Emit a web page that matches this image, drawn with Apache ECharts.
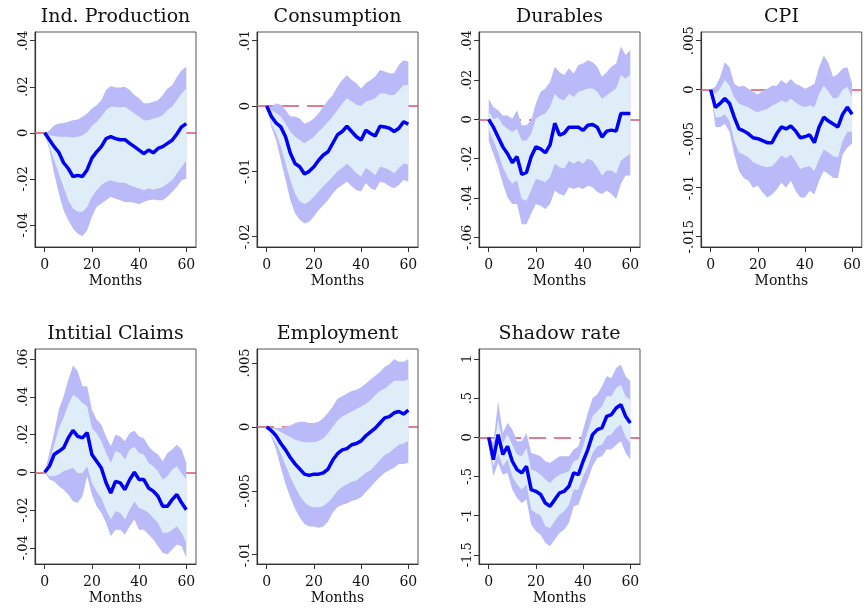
<!DOCTYPE html>
<html><head><meta charset="utf-8">
<script src="https://cdn.jsdelivr.net/npm/echarts@6/dist/echarts.min.js"></script>
<style>html,body{margin:0;padding:0;background:#fff}#c{width:864px;height:609px}</style>
</head><body><div id="c"></div>
<script>
// ---- data (months 0..60, step 2) ----
const months = [0,2,4,6,8,10,12,14,16,18,20,22,24,26,28,30,32,34,36,38,40,42,44,46,48,50,52,54,56,58,60];
const xTicks = [0,20,40,60];
const titles = ["Ind. Production","Consumption","Durables","CPI","Intitial Claims","Employment","Shadow rate"];

// Ind. Production
const ipMed  = [0,-0.003,-0.006,-0.0085,-0.013,-0.0155,-0.019,-0.0185,-0.019,-0.016,-0.011,-0.0083,-0.006,-0.0025,-0.0017,-0.0025,-0.003,-0.003,-0.0046,-0.006,-0.0075,-0.009,-0.0075,-0.0087,-0.0068,-0.006,-0.0046,-0.0032,-0.0005,0.0026,0.004];
const ipHi90 = [0,0.001,0.0033,0.004,0.0043,0.0048,0.0055,0.0058,0.007,0.0084,0.0106,0.012,0.0142,0.0186,0.0203,0.0197,0.0197,0.02,0.0186,0.0164,0.015,0.0128,0.0128,0.0135,0.0142,0.0164,0.0193,0.0207,0.0243,0.0272,0.0287];
const ipHi68 = [0,-0.001,-0.0014,-0.0017,-0.0017,-0.0017,-0.002,-0.0017,-0.001,0.0004,0.003,0.0048,0.007,0.0099,0.0113,0.0113,0.011,0.0113,0.0099,0.0084,0.007,0.0055,0.0055,0.0062,0.0067,0.0077,0.0099,0.0113,0.0142,0.0171,0.0193];
const ipLo68 = [0,-0.006,-0.0119,-0.0177,-0.0235,-0.0293,-0.0329,-0.0343,-0.0343,-0.0322,-0.0278,-0.0249,-0.0228,-0.0213,-0.0206,-0.0213,-0.0217,-0.0217,-0.0228,-0.0235,-0.0242,-0.0249,-0.0242,-0.0246,-0.0242,-0.0235,-0.022,-0.0206,-0.0177,-0.0148,-0.0119];
const ipLo90 = [0,-0.0075,-0.0177,-0.0264,-0.0336,-0.038,-0.0416,-0.0438,-0.0449,-0.0423,-0.0365,-0.0322,-0.0307,-0.0293,-0.0278,-0.0286,-0.0293,-0.03,-0.03,-0.0304,-0.031,-0.03,-0.0293,-0.029,-0.0293,-0.0293,-0.0278,-0.0257,-0.0235,-0.0206,-0.0199];
const ipTicks = [-0.04,-0.02,0,0.02,0.04];

// Consumption
const csMed  = [0,-0.0016,-0.0026,-0.0032,-0.0047,-0.0072,-0.0088,-0.0093,-0.0104,-0.01,-0.0093,-0.0083,-0.0075,-0.007,-0.0057,-0.0044,-0.0039,-0.0031,-0.0039,-0.0047,-0.0052,-0.0037,-0.0042,-0.0046,-0.0031,-0.0032,-0.0034,-0.0039,-0.0034,-0.0024,-0.0028];
const csHi90 = [0,-0.0001,0.0004,0.0002,-0.0006,-0.0016,-0.0016,-0.0019,-0.0027,-0.0024,-0.0019,-0.0011,-0.0001,0.0009,0.0017,0.003,0.004,0.0047,0.004,0.0035,0.0027,0.0035,0.004,0.0045,0.0055,0.0053,0.005,0.005,0.0063,0.007,0.0068];
const csHi68 = [0,-0.0006,-0.0011,-0.0016,-0.0027,-0.0039,-0.0047,-0.0052,-0.0057,-0.0052,-0.0047,-0.0039,-0.0032,-0.0024,-0.0016,-0.0006,0.0004,0.0012,0.0007,0.0002,0,0.0007,0.0009,0.0012,0.0019,0.0019,0.0017,0.0017,0.0024,0.0032,0.0032];
const csLo68 = [0,-0.0027,-0.0042,-0.0062,-0.0088,-0.0113,-0.0134,-0.0146,-0.015,-0.0146,-0.0139,-0.0131,-0.0123,-0.0116,-0.0108,-0.01,-0.0095,-0.0088,-0.0095,-0.0103,-0.0108,-0.0095,-0.01,-0.0106,-0.0093,-0.0095,-0.0098,-0.0103,-0.0095,-0.0088,-0.009];
const csLo90 = [0,-0.0032,-0.0052,-0.0083,-0.0113,-0.0144,-0.0164,-0.0174,-0.018,-0.0177,-0.0169,-0.0159,-0.0152,-0.0144,-0.0134,-0.0126,-0.0121,-0.0116,-0.0123,-0.0129,-0.0131,-0.0118,-0.0126,-0.0129,-0.0116,-0.0118,-0.0123,-0.0126,-0.0121,-0.0113,-0.0116];
const csTicks = [-0.02,-0.01,0,0.01];

// Durables
const duMed  = [0,-0.004,-0.009,-0.014,-0.0175,-0.022,-0.019,-0.028,-0.027,-0.019,-0.014,-0.015,-0.017,-0.013,-0.002,-0.008,-0.007,-0.004,-0.004,-0.004,-0.0056,-0.003,-0.0026,-0.004,-0.009,-0.006,-0.0055,-0.006,0.003,0.003,0.003];
const duHi90 = [0.0105,0.0063,0.0046,0.002,0.002,0.0003,0.0046,-0.003,-0.003,-0.0005,0.008,0.014,0.0157,0.019,0.0267,0.024,0.0225,0.026,0.0233,0.0276,0.0284,0.03,0.029,0.0267,0.0216,0.024,0.0267,0.0284,0.037,0.0327,0.0352];
const duHi68 = [0.004,0,0.001,-0.003,-0.0048,-0.0065,-0.0048,-0.0107,-0.0107,-0.0073,0.0003,0.002,0.003,0.0063,0.013,0.0105,0.0097,0.013,0.0114,0.014,0.0148,0.0157,0.0157,0.014,0.0105,0.0123,0.014,0.0157,0.0225,0.0208,0.0225];
const duLo68 = [-0.005,-0.0107,-0.0167,-0.0243,-0.0294,-0.0328,-0.031,-0.0405,-0.0414,-0.036,-0.0303,-0.031,-0.032,-0.0294,-0.0226,-0.0243,-0.025,-0.021,-0.0226,-0.021,-0.0226,-0.02,-0.021,-0.0243,-0.0286,-0.026,-0.026,-0.0277,-0.021,-0.0192,-0.0175];
const duLo90 = [-0.011,-0.0175,-0.0243,-0.0328,-0.0397,-0.043,-0.043,-0.0533,-0.0533,-0.048,-0.043,-0.0439,-0.0456,-0.043,-0.0363,-0.038,-0.0388,-0.0345,-0.0354,-0.0345,-0.0354,-0.0337,-0.0345,-0.037,-0.038,-0.0363,-0.038,-0.0405,-0.0328,-0.0286,-0.0286];
const duTicks = [-0.06,-0.04,-0.02,0,0.02,0.04];

// CPI
const cpMed  = [0,-0.0018,-0.0014,-0.0009,-0.0014,-0.0028,-0.004,-0.0042,-0.0045,-0.0049,-0.005,-0.0052,-0.0054,-0.0054,-0.0045,-0.0038,-0.004,-0.0037,-0.0042,-0.0049,-0.0048,-0.0046,-0.0054,-0.0038,-0.0028,-0.0032,-0.0035,-0.0038,-0.0025,-0.0018,-0.0025];
const cpHi90 = [0,0.0003,0.0013,0.0028,0.0023,0.0006,0.0003,0.0004,0.0001,-0.0002,-0.0005,-0.0001,0.0001,0.0004,0.0004,0.001,0.0006,0.0011,0.0006,0.0004,0.0001,0.0003,0.0006,0.0023,0.0035,0.0027,0.0013,0.0016,0.0022,0.0023,0.0006];
const cpHi68 = [0,-0.0004,0.0001,0.001,0.0004,-0.0008,-0.0014,-0.0016,-0.0018,-0.0021,-0.0023,-0.0021,-0.002,-0.0016,-0.0014,-0.0011,-0.0013,-0.0009,-0.0013,-0.0016,-0.0018,-0.0016,-0.0018,-0.0004,0.0004,-0.0002,-0.0009,-0.0008,0,0.0003,-0.0008];
const cpLo68 = [0,-0.0028,-0.0028,-0.0025,-0.0032,-0.0052,-0.0064,-0.0066,-0.0069,-0.0074,-0.0076,-0.0078,-0.0079,-0.0078,-0.0073,-0.0067,-0.007,-0.0066,-0.0073,-0.0081,-0.0079,-0.0078,-0.0083,-0.0071,-0.0061,-0.0064,-0.0068,-0.0069,-0.0052,-0.0043,-0.0043];
const cpLo90 = [0,-0.0038,-0.0038,-0.0035,-0.0043,-0.0066,-0.0083,-0.009,-0.0093,-0.01,-0.0098,-0.0105,-0.011,-0.0107,-0.0102,-0.0095,-0.01,-0.0093,-0.0103,-0.011,-0.011,-0.0103,-0.0107,-0.0093,-0.0083,-0.0086,-0.009,-0.009,-0.0066,-0.0059,-0.0055];
const cpTicks = [-0.015,-0.01,-0.005,0,0.005];

// Initial Claims
const icMed  = [0,0.0032,0.0094,0.0111,0.0129,0.0182,0.0222,0.019,0.0182,0.021,0.0094,0.0058,0.0023,-0.0056,-0.011,-0.0048,-0.0056,-0.0092,-0.0039,0,-0.0039,-0.0039,-0.0083,-0.01,-0.0127,-0.018,-0.018,-0.0145,-0.0118,-0.0162,-0.0198];
const icHi90 = [0,0.0102,0.0208,0.0332,0.0402,0.049,0.0565,0.0535,0.0455,0.0455,0.0332,0.0279,0.0252,0.019,0.0138,0.02,0.019,0.0164,0.0208,0.022,0.019,0.018,0.0138,0.0111,0.0094,0.0058,0.0102,0.012,0.0146,0.012,0.0049];
const icHi68 = [0,0.0058,0.0146,0.0235,0.0288,0.0358,0.0411,0.0394,0.0367,0.035,0.0235,0.0208,0.0164,0.0102,0.0049,0.0111,0.0102,0.0067,0.012,0.0135,0.0102,0.0094,0.0049,0.0032,0.0005,-0.0039,-0.0021,0.0014,0.0032,-0.0005,-0.0039];
const icLo68 = [0,-0.0021,-0.0021,-0.0012,0.0005,0.0014,0.0023,-0.0004,-0.0004,0.0032,-0.0056,-0.01,-0.0136,-0.0198,-0.025,-0.0206,-0.0215,-0.025,-0.0198,-0.0155,-0.0189,-0.0198,-0.0215,-0.0242,-0.0268,-0.0321,-0.0321,-0.0304,-0.0286,-0.0321,-0.0374];
const icLo90 = [0,-0.0039,-0.0048,-0.0074,-0.0092,-0.0118,-0.0154,-0.0162,-0.0127,-0.0021,-0.0118,-0.018,-0.0215,-0.0268,-0.0339,-0.0304,-0.0304,-0.033,-0.0286,-0.025,-0.0304,-0.0304,-0.033,-0.0356,-0.0392,-0.0427,-0.0436,-0.0409,-0.0383,-0.0392,-0.0454];
const icTicks = [-0.04,-0.02,0,0.02,0.04,0.06];

// Employment
const emMed  = [0,-0.0003,-0.0007,-0.0013,-0.0018,-0.0024,-0.0029,-0.0033,-0.0037,-0.0038,-0.0037,-0.0037,-0.0036,-0.0033,-0.0026,-0.0021,-0.0018,-0.0017,-0.0014,-0.0013,-0.0011,-0.0007,-0.0004,-0.0001,0.0003,0.0007,0.0008,0.0011,0.0012,0.001,0.0013];
const emHi90 = [0,-0.0001,-0.0001,-0.0001,0,0.0001,0.0003,0.0004,0.0004,0.0003,0.0003,0.0004,0.0007,0.0011,0.0016,0.0022,0.0024,0.0026,0.0028,0.0029,0.0031,0.0034,0.0037,0.004,0.0043,0.0047,0.0049,0.0053,0.0051,0.0051,0.0053];
const emHi68 = [0,-0.0001,-0.0002,-0.0004,-0.0006,-0.0008,-0.001,-0.0011,-0.0012,-0.0012,-0.0012,-0.0011,-0.0009,-0.0005,0,0.0005,0.0008,0.001,0.0012,0.0014,0.0016,0.0018,0.0021,0.0025,0.0028,0.003,0.0033,0.0036,0.0036,0.0036,0.0037];
const emLo68 = [0,-0.0007,-0.0013,-0.0021,-0.003,-0.0039,-0.0047,-0.0054,-0.0059,-0.0062,-0.0063,-0.0063,-0.0062,-0.0059,-0.0055,-0.005,-0.0047,-0.0045,-0.0043,-0.0042,-0.0039,-0.0036,-0.0034,-0.003,-0.0026,-0.0022,-0.002,-0.0017,-0.0014,-0.0013,-0.0011];
const emLo90 = [0,-0.0008,-0.0018,-0.0032,-0.0045,-0.0055,-0.0064,-0.0071,-0.0076,-0.0078,-0.0078,-0.0079,-0.0078,-0.0074,-0.0067,-0.0063,-0.0061,-0.006,-0.0058,-0.0057,-0.0055,-0.0051,-0.0047,-0.0043,-0.0039,-0.0036,-0.0034,-0.0032,-0.0029,-0.0029,-0.0028];
const emTicks = [-0.01,-0.005,0,0.005];

// Shadow rate
const srMed  = [0,-0.285,0.034,-0.22,-0.115,-0.306,-0.413,-0.455,-0.37,-0.668,-0.69,-0.73,-0.84,-0.88,-0.796,-0.71,-0.69,-0.626,-0.455,-0.477,-0.306,-0.157,0.034,0.098,0.119,0.268,0.29,0.374,0.417,0.268,0.183];
const srHi90 = [0.02,-0.072,0.46,0.055,0.183,0.098,-0.051,-0.051,0.055,-0.2,-0.221,-0.243,-0.306,-0.328,-0.285,-0.243,-0.243,-0.243,-0.157,-0.115,0.098,0.31,0.502,0.545,0.65,0.779,0.757,0.885,0.928,0.779,0.715];
const srHi68 = [0,-0.157,0.225,-0.072,0.034,-0.094,-0.221,-0.243,-0.136,-0.413,-0.434,-0.477,-0.54,-0.583,-0.519,-0.477,-0.455,-0.434,-0.306,-0.285,-0.115,0.077,0.268,0.332,0.396,0.523,0.523,0.63,0.672,0.523,0.48];
const srLo68 = [-0.06,-0.37,-0.2,-0.37,-0.285,-0.498,-0.604,-0.668,-0.604,-0.923,-0.966,-1.0,-1.136,-1.157,-1.072,-0.987,-0.945,-0.86,-0.668,-0.668,-0.498,-0.37,-0.2,-0.115,-0.094,0.013,0.034,0.119,0.162,0,-0.072];
const srLo90 = [-0.1,-0.498,-0.328,-0.477,-0.455,-0.668,-0.774,-0.838,-0.796,-1.115,-1.2,-1.243,-1.349,-1.391,-1.306,-1.221,-1.179,-1.094,-0.881,-0.86,-0.689,-0.54,-0.37,-0.264,-0.243,-0.157,-0.157,-0.094,-0.051,-0.2,-0.285];
const srTicks = [-1.5,-1,-0.5,0,0.5,1];

// ---- layout / style ----
const FONT = "'DejaVu Serif', serif";
const COL_L = [35, 257, 479, 701];
const ROW_T = [32, 349];
const GW = 161, GH = 215;
const panels = [
  {med: ipMed, hi90: ipHi90, hi68: ipHi68, lo68: ipLo68, lo90: ipLo90, ticks: ipTicks, ymin: -0.0496, ymax: 0.0438, col: 0, row: 0},
  {med: csMed, hi90: csHi90, hi68: csHi68, lo68: csLo68, lo90: csLo90, ticks: csTicks, ymin: -0.02158, ymax: 0.01133, col: 1, row: 0},
  {med: duMed, hi90: duHi90, hi68: duHi68, lo68: duLo68, lo90: duLo90, ticks: duTicks, ymin: -0.0649, ymax: 0.0444, col: 2, row: 0},
  {med: cpMed, hi90: cpHi90, hi68: cpHi68, lo68: cpLo68, lo90: cpLo90, ticks: cpTicks, ymin: -0.01605, ymax: 0.00589, col: 3, row: 0},
  {med: icMed, hi90: icHi90, hi68: icHi68, lo68: icLo68, lo90: icLo90, ticks: icTicks, ymin: -0.0486, ymax: 0.0653, col: 0, row: 1},
  {med: emMed, hi90: emHi90, hi68: emHi68, lo68: emLo68, lo90: emLo90, ticks: emTicks, ymin: -0.01073, ymax: 0.00609, col: 1, row: 1},
  {med: srMed, hi90: srHi90, hi68: srHi68, lo68: srLo68, lo90: srLo90, ticks: srTicks, ymin: -1.618, ymax: 1.127, col: 2, row: 1}
];

function fmt(v) {
  if (v === 0) return '0';
  const s = String(+Math.abs(v).toFixed(4)).replace(/^0\./, '.');
  return (v < 0 ? '-' : '') + s;
}
const pairs = arr => months.map((m, i) => [m, arr[i]]);

// band drawn as one polygon through the axis scales (api.coord)
function bandSeries(k, lo, hi, color, z, extra) {
  return Object.assign({
    type: 'custom', xAxisIndex: k, yAxisIndex: k, silent: true, animation: false, z: z,
    data: months.map((m, i) => [m, lo[i], hi[i]]),
    encode: {x: 0, y: [1, 2]},
    renderItem: function (params, api) {
      if (params.dataIndex !== 0) return null;
      const upper = months.map((m, i) => api.coord([m, hi[i]]));
      const lower = months.map((m, i) => api.coord([m, lo[i]])).reverse();
      return {type: 'polygon', shape: {points: upper.concat(lower)}, style: {fill: color, stroke: null}};
    }
  }, extra || {});
}

const grid = [], xAxis = [], yAxis = [], series = [], title = [];
panels.forEach((p, k) => {
  const left = COL_L[p.col], top = ROW_T[p.row];
  grid.push({left: left, top: top, width: GW, height: GH, show: true, borderColor: '#555', borderWidth: 1, containLabel: false});
  title.push({text: titles[k], left: left + GW / 2, top: top - 24, textAlign: 'center', padding: 0,
    textStyle: {fontFamily: FONT, fontSize: 19, fontWeight: 'normal', color: '#111'}});
  xAxis.push({type: 'value', gridIndex: k, min: -4.1, max: 64.1,
    axisLine: {show: true, onZero: false, lineStyle: {color: '#333', width: 1.2}},
    axisTick: {show: true, length: 5, customValues: xTicks, lineStyle: {color: '#333'}},
    axisLabel: {customValues: xTicks, margin: 11, fontFamily: FONT, fontSize: 14, color: '#111'},
    splitLine: {show: false},
    name: 'Months', nameLocation: 'middle', nameGap: 27,
    nameTextStyle: {fontFamily: FONT, fontSize: 14, color: '#111'}});
  yAxis.push({type: 'value', gridIndex: k, min: p.ymin, max: p.ymax,
    axisLine: {show: true, onZero: false, lineStyle: {color: '#333', width: 1.2}},
    axisTick: {show: true, length: 5, customValues: p.ticks, lineStyle: {color: '#333'}},
    axisLabel: {customValues: p.ticks, rotate: 90, margin: 5, fontFamily: FONT, fontSize: 13, color: '#111', formatter: fmt},
    splitLine: {show: false}});
  series.push(bandSeries(k, p.lo90, p.hi90, '#BABAF8', 2, {
    markLine: {silent: true, symbol: 'none', z: 1, label: {show: false}, animation: false,
      lineStyle: {color: '#D9536C', width: 1.5, type: [17, 8]}, data: [{yAxis: 0}]}
  }));
  series.push(bandSeries(k, p.lo68, p.hi68, '#DEEDF8', 3));
  series.push({type: 'line', xAxisIndex: k, yAxisIndex: k, symbol: 'none', silent: true, animation: false,
    data: pairs(p.med), lineStyle: {color: '#0000F5', width: 3.5}, z: 4});
});

const chart = echarts.init(document.getElementById('c'), null, {renderer: 'canvas'});
chart.setOption({animation: false, backgroundColor: '#fff', title, grid, xAxis, yAxis, series});
</script></body></html>
